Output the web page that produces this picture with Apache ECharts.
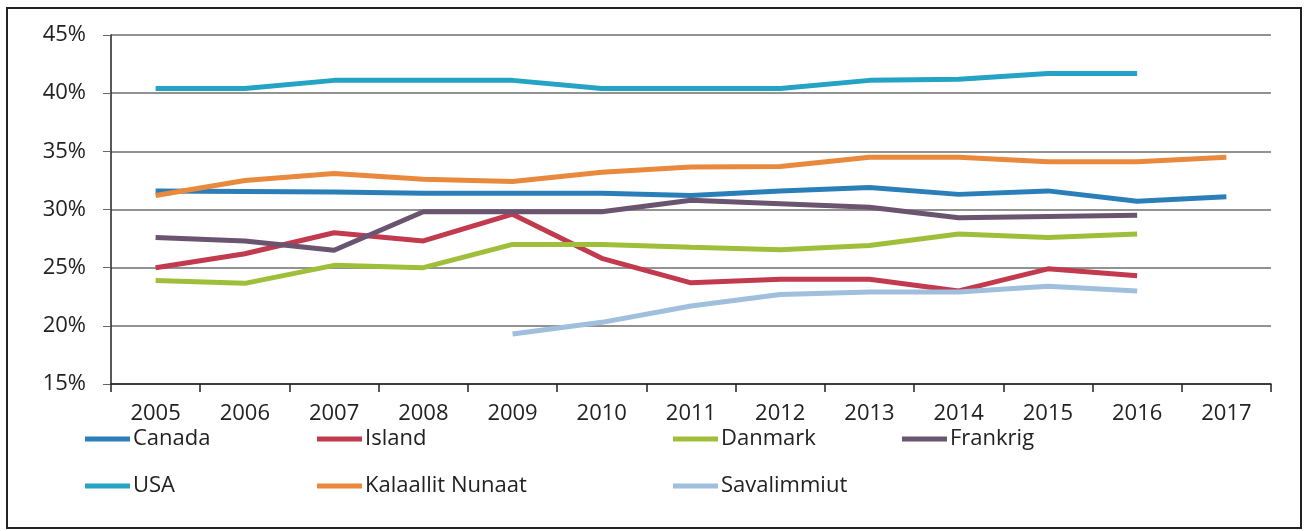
<!DOCTYPE html>
<html>
<head>
<meta charset="utf-8">
<script src="https://cdn.jsdelivr.net/npm/echarts@6/dist/echarts.min.js"></script>
<style>
  html, body { margin: 0; padding: 0; background: #fff; }
  #chart { width: 1305px; height: 531px; }
</style>
</head>
<body>
<div id="chart"></div>
<script>
// kategorier
var years = ['2005', '2006', '2007', '2008', '2009', '2010', '2011', '2012', '2013', '2014', '2015', '2016', '2017'];
var yTicks = [15, 20, 25, 30, 35, 40, 45];

// værdier i procent
var canada = [31.6, 31.55, 31.5, 31.4, 31.4, 31.4, 31.2, 31.6, 31.9, 31.3, 31.6, 30.7, 31.1];
var island = [25.0, 26.2, 28.0, 27.3, 29.6, 25.8, 23.7, 24.0, 24.0, 23.0, 24.9, 24.3, null];
var danmark = [23.9, 23.65, 25.2, 25.0, 27.0, 27.0, 26.75, 26.55, 26.9, 27.9, 27.6, 27.9, null];
var frankrig = [27.6, 27.3, 26.5, 29.8, 29.8, 29.8, 30.8, 30.5, 30.2, 29.3, 29.4, 29.5, null];
var usa = [40.4, 40.4, 41.1, 41.1, 41.1, 40.4, 40.4, 40.4, 41.1, 41.2, 41.7, 41.7, null];
var kalaallit = [31.2, 32.5, 33.1, 32.6, 32.4, 33.2, 33.65, 33.7, 34.5, 34.5, 34.1, 34.1, 34.5];
var savalimmiut = [null, null, null, null, 19.3, 20.3, 21.7, 22.7, 22.9, 22.9, 23.4, 23.0, null];

var names = ['Canada', 'Island', 'Danmark', 'Frankrig', 'USA', 'Kalaallit Nunaat', 'Savalimmiut'];
var colors = ['#2b7fb8', '#c23a4e', '#9fbf3b', '#6b5470', '#24a3c4', '#e8893d', '#9fbfdc'];
var values = [canada, island, danmark, frankrig, usa, kalaallit, savalimmiut];

var myChart = echarts.init(document.getElementById('chart'));

var fontFam = '"Open Sans", sans-serif';

// legende placering (Excel-agtig 4 kolonner)
var legendPos = [
    [85, 428], [317, 428], [673, 428], [902, 428],
    [85, 475], [317, 475], [673, 475]
];

var legends = names.map(function (n, i) {
    return {
        data: [n],
        left: legendPos[i][0],
        top: legendPos[i][1],
        icon: 'rect',
        itemWidth: 45,
        itemHeight: 5,
        padding: 0,
        selectedMode: false,
        textStyle: { fontSize: 22, color: '#222', fontFamily: fontFam, padding: [0, 0, 0, -2] }
    };
});

var series = names.map(function (n, i) {
    return {
        name: n,
        type: 'line',
        data: values[i],
        symbol: 'none',
        connectNulls: false,
        lineStyle: { width: 5, color: colors[i] },
        itemStyle: { color: colors[i] }
    };
});

var option = {
    backgroundColor: '#fff',
    animation: false,
    graphic: [{
        type: 'rect',
        shape: { x: 7, y: 8, width: 1294, height: 520 },
        style: { fill: 'none', stroke: '#222', lineWidth: 2 }
    }],
    legend: legends,
    grid: {
        left: 111,
        right: 34,
        top: 35,
        bottom: 147,
        containLabel: false
    },
    xAxis: {
        type: 'category',
        data: years,
        boundaryGap: true,
        axisLine: { lineStyle: { color: '#222', width: 1.5 } },
        axisTick: { show: true, interval: 0, length: 8, lineStyle: { color: '#222', width: 1.5 } },
        axisLabel: { margin: 19, fontSize: 22, color: '#222', fontFamily: fontFam, interval: 0 }
    },
    yAxis: {
        type: 'value',
        min: yTicks[0],
        max: yTicks[yTicks.length - 1],
        interval: 5,
        axisLine: { show: true, lineStyle: { color: '#222', width: 1.5 } },
        axisTick: { show: true, length: 8, lineStyle: { color: '#666' } },
        axisLabel: { formatter: '{value}%', margin: 25, fontSize: 22, color: '#222', fontFamily: fontFam },
        splitLine: { lineStyle: { color: '#6e6e6e', width: 1.5 } }
    },
    series: series
};
myChart.setOption(option);
</script>
</body>
</html>
